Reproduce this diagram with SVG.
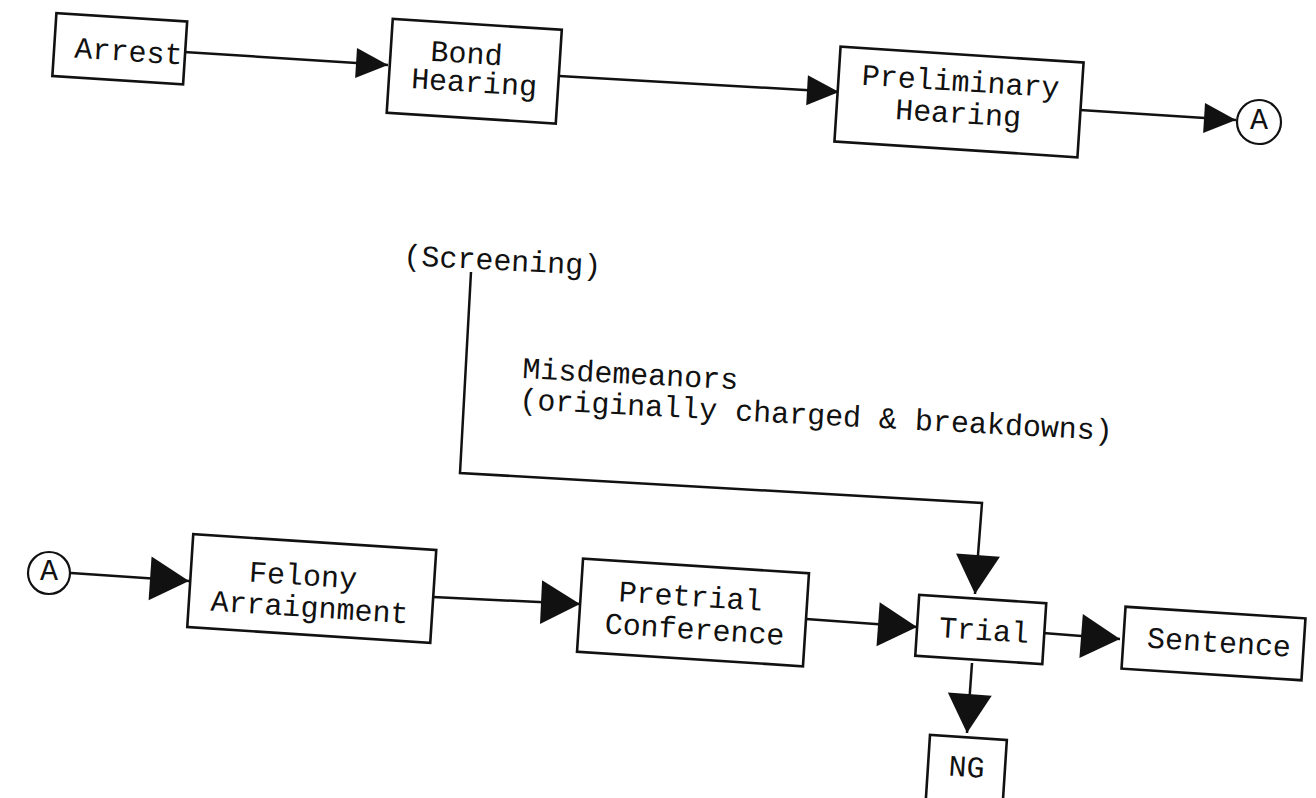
<svg xmlns="http://www.w3.org/2000/svg" width="1316" height="798" viewBox="0 0 1316 798">
  <style>
    .box { fill: #fff; stroke: #111; stroke-width: 2.6; }
    .ring { fill: #fff; stroke: #111; stroke-width: 2.2; }
    .lbl { font-family: "Liberation Mono", "DejaVu Sans Mono", monospace; font-size: 30px; fill: #111; text-anchor: middle; }
    .note { font-family: "Liberation Mono", "DejaVu Sans Mono", monospace; font-size: 30px; fill: #111; }
    .wire { fill: none; stroke: #111; stroke-width: 2.5; stroke-linejoin: miter; }
    .wire.s { marker-end: url(#head-s); }
    .wire.l { marker-end: url(#head-l); }
  </style>
  <defs>
    <!-- small arrowhead used on the upper row -->
    <marker id="head-s" markerUnits="userSpaceOnUse" viewBox="0 0 33 30" markerWidth="33" markerHeight="30" refX="32" refY="15" orient="auto" overflow="visible">
      <path d="M0,0 L32,15 L0,30 Z" fill="#111"/>
    </marker>
    <!-- larger arrowhead used on the lower row -->
    <marker id="head-l" markerUnits="userSpaceOnUse" viewBox="0 0 40 44" markerWidth="40" markerHeight="44" refX="39" refY="22" orient="auto" overflow="visible">
      <path d="M0,0 L39,22 L0,44 Z" fill="#111"/>
    </marker>
  </defs>

  <rect width="1316" height="798" fill="#fff"/>

  <!-- connectors -->
  <g id="connectors">
    <path class="wire s" d="M184,52 L388,65"/>
    <path class="wire s" d="M559,76 L839,92"/>
    <path class="wire s" d="M1080,110 L1236,120"/>
    <path class="wire l" d="M71,573 L189,581"/>
    <path class="wire l" d="M433,597 L580,604"/>
    <path class="wire l" d="M806,619 L917,627"/>
    <path class="wire l" d="M1043,633 L1120,639"/>
    <path class="wire l" d="M972,663 L967,733"/>
    <path class="wire l" d="M471,272 L460,473 L982,503 L975,594" stroke-width="2.2"/>
  </g>

  <!-- free labels -->
  <g id="labels">
    <text class="note" x="403" y="265" transform="rotate(3 403 265)">(Screening)</text>
    <text class="note" x="522" y="378" transform="rotate(3 522 378)">Misdemeanors</text>
    <text class="note" x="519" y="409" transform="rotate(3 519 409)">(originally charged &amp; breakdowns)</text>
  </g>

  <!-- upper row -->
  <g id="arrest" transform="translate(119.75,48.75) rotate(3.7)">
    <rect class="box" x="-65.5" y="-31.5" width="131" height="63"/>
    <text class="lbl" x="9" y="11.7">Arrest</text>
  </g>

  <g id="bond-hearing" transform="translate(474.25,71.25) rotate(3.7)">
    <rect class="box" x="-84.7" y="-47" width="169.4" height="94"/>
    <text class="lbl" x="-8.8" y="-7.7">Bond</text>
    <text class="lbl" x="0.6" y="20.8">Hearing</text>
  </g>

  <g id="preliminary-hearing" transform="translate(959,102) rotate(3.7)">
    <rect class="box" x="-121.75" y="-47.5" width="243.5" height="95"/>
    <text class="lbl" x="0.3" y="-11">Preliminary</text>
    <text class="lbl" x="-0.1" y="21">Hearing</text>
  </g>

  <g id="connector-a-out">
    <circle class="ring" cx="1259" cy="122" r="22"/>
    <text class="lbl" x="1259" y="129">A</text>
  </g>

  <!-- lower row -->
  <g id="connector-a-in">
    <circle class="ring" cx="49" cy="573" r="21"/>
    <text class="lbl" x="49" y="580">A</text>
  </g>

  <g id="felony-arraignment" transform="translate(311.75,588.5) rotate(3.7)">
    <rect class="box" x="-121.75" y="-46.5" width="243.5" height="93"/>
    <text class="lbl" x="-9.5" y="-2.9">Felony</text>
    <text class="lbl" x="-0.9" y="28.6">Arraignment</text>
  </g>

  <g id="pretrial-conference" transform="translate(693,612.5) rotate(3.7)">
    <rect class="box" x="-113.2" y="-46.6" width="226.4" height="93.2"/>
    <text class="lbl" x="-3.4" y="-6.3">Pretrial</text>
    <text class="lbl" x="2.7" y="26.4">Conference</text>
  </g>

  <g id="trial" transform="translate(980.75,629.5) rotate(3.7)">
    <rect class="box" x="-63.65" y="-30.5" width="127.3" height="61"/>
    <text class="lbl" x="3.4" y="10.3">Trial</text>
  </g>

  <g id="sentence" transform="translate(1213.5,643.5) rotate(3.7)">
    <rect class="box" x="-90.15" y="-31" width="180.3" height="62"/>
    <text class="lbl" x="5.5" y="8.2">Sentence</text>
  </g>

  <g id="ng" transform="translate(966,774.9) rotate(3.7)">
    <rect class="box" x="-38.5" y="-37.5" width="77" height="75"/>
    <text class="lbl" x="0.1" y="1.8">NG</text>
  </g>
</svg>
